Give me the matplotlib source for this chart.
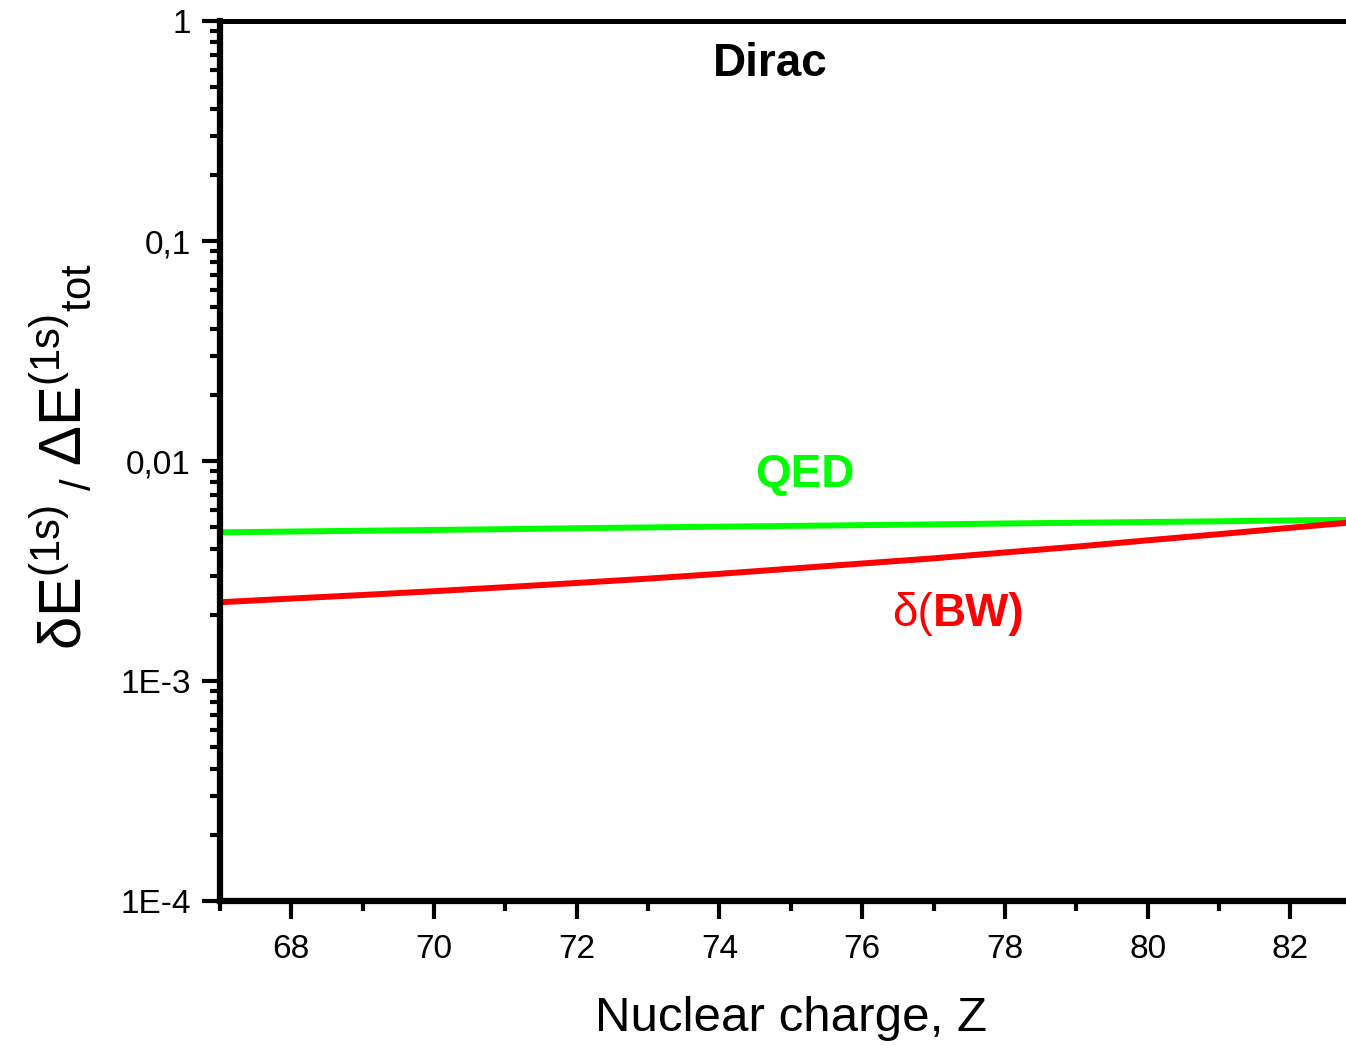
import matplotlib
matplotlib.use("Agg")
import matplotlib.pyplot as plt
from matplotlib.ticker import FixedLocator, FixedFormatter, LogLocator, NullFormatter, MultipleLocator

# ---- data ----
Z = [67, 68, 69, 70, 71, 72, 73, 74, 75, 76, 77, 78, 79, 80, 81, 82, 83]
dirac = [1.0] * len(Z)
qed = [0.00474, 0.00478, 0.00482, 0.00486, 0.00490, 0.00495, 0.00499, 0.00503,
       0.00507, 0.00511, 0.00515, 0.00520, 0.00524, 0.00528, 0.00532, 0.00537, 0.00541]
bw = [0.00228, 0.00237, 0.00246, 0.00256, 0.00267, 0.00279, 0.00292, 0.00307,
      0.00324, 0.00342, 0.00361, 0.00384, 0.00408, 0.00436, 0.00465, 0.00497, 0.00531]
ytick_vals = [1e-4, 1e-3, 1e-2, 1e-1, 1]
ytick_labels = ["1E-4", "1E-3", "0,01", "0,1", "1"]
xtick_vals = [68, 70, 72, 74, 76, 78, 80, 82]

plt.rcParams['font.family'] = ['Liberation Sans', 'DejaVu Sans']
plt.rcParams['mathtext.fontset'] = 'custom'
plt.rcParams['mathtext.rm'] = 'Liberation Sans'
plt.rcParams['mathtext.it'] = 'Liberation Sans:italic'
plt.rcParams['mathtext.bf'] = 'Liberation Sans:bold'
plt.rcParams['mathtext.sf'] = 'Liberation Sans'
plt.rcParams['mathtext.default'] = 'regular'

fig = plt.figure(figsize=(13.46, 10.48), dpi=100)
ax = fig.add_axes([220/1346, 1 - 901/1048, 1 - 220/1346, (901 - 21)/1048])

ax.plot(Z, dirac, color='black', lw=3.6, clip_on=False, solid_capstyle='butt')
ax.plot(Z, qed, color='#00ff00', lw=4.3)
ax.plot(Z, bw, color='#ff0000', lw=4.3)

ax.set_yscale('log')
ax.set_ylim(1e-4, 1)
ax.set_xlim(67, 82.78)

ax.yaxis.set_major_locator(FixedLocator(ytick_vals))
ax.yaxis.set_major_formatter(FixedFormatter(ytick_labels))
ax.yaxis.set_minor_locator(LogLocator(base=10, subs=[2, 3, 4, 5, 6, 7, 8, 9]))
ax.yaxis.set_minor_formatter(NullFormatter())
ax.xaxis.set_major_locator(FixedLocator(xtick_vals))
ax.xaxis.set_minor_locator(MultipleLocator(1))

for s in ['top', 'right']:
    ax.spines[s].set_visible(False)
for s in ['left', 'bottom']:
    ax.spines[s].set_linewidth(4.5)

ax.tick_params(which='major', direction='out', length=13, width=3, labelsize=24)
ax.tick_params(axis='x', which='major', pad=11)
ax.tick_params(axis='y', which='major', pad=8)
ax.tick_params(which='minor', direction='out', length=7.5, width=3)

ax.set_xlabel('Nuclear charge, Z', fontsize=35.5)
ax.xaxis.set_label_coords(0.507, -0.108)
ax.xaxis.label.set_va('top')
ax.set_ylabel(r'$\delta E^{(1s)}{}_{\ /\ }\Delta E^{(1s)}{}_{tot}$', fontsize=43)
ax.yaxis.set_label_coords(-0.112, 0.505)

ax.text(74.71, 0.64, 'Dirac', fontsize=33, fontweight='bold', color='black',
        ha='center', va='center')
ax.text(75.2, 0.0086, 'QED', fontsize=33, fontweight='bold', color='#00ff00',
        ha='center', va='center')
t1 = ax.text(76.42, 0.00202, '\u03b4(', fontsize=33, color='#ff0000',
             ha='left', va='center')
ax.annotate('BW)', xy=(1, 0.5), xycoords=t1, fontsize=33, fontweight='bold',
            color='#ff0000', ha='left', va='center')

fig.savefig('out.png', dpi=100)
